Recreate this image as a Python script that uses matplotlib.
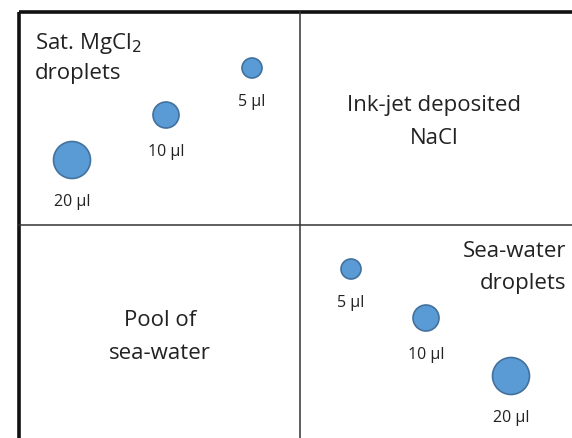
import matplotlib.pyplot as plt
from matplotlib.patches import Circle

plt.rcParams['font.family'] = ['Open Sans', 'DejaVu Sans']

# Volumen der Tropfen (µl) und ihre Radien in Pixeln
volumes = [5, 10, 20]
radii = [10, 13, 18.5]

# Tropfenpositionen (Pixelkoordinaten) je Quadrant
mgcl2_x = [252, 166, 72]
mgcl2_y = [69, 116, 161]
sea_x = [351, 426, 511]
sea_y = [270, 319, 377]

W, H = 572, 439
fig = plt.figure(figsize=(W / 100, H / 100), dpi=100)
ax = fig.add_axes([0, 0, 1, 1])
ax.set_xlim(0, W)
ax.set_ylim(H, 0)
ax.set_aspect('equal')
ax.axis('off')

line_col = '#111111'
# Rahmen und Gitter
ax.plot([19, W], [13, 13], color=line_col, lw=2.6, solid_capstyle='butt')
ax.plot([19, 19], [13, H], color=line_col, lw=2.6, solid_capstyle='butt')
ax.plot([19, W], [226, 226], color='#333333', lw=1.1)
ax.plot([300, 300], [13, H], color='#333333', lw=1.1)

fill = '#5b9bd5'
edge = '#41719c'
text_col = '#222222'


def draw_drops(xs, ys):
    for v, r, x, y in zip(volumes, radii, xs, ys):
        ax.add_patch(Circle((x, y), r, facecolor=fill, edgecolor=edge, lw=1.2))
        ax.text(x, y + r + 23, f'{v} µl', ha='center', va='center',
                fontsize=11.5, color=text_col)


draw_drops(mgcl2_x, mgcl2_y)
draw_drops(sea_x, sea_y)

big = 16
ax.text(35, 43, 'Sat. MgCl$_{2}$', ha='left', va='center', fontsize=big, color=text_col)
ax.text(35, 74, 'droplets', ha='left', va='center', fontsize=big, color=text_col)

ax.text(434, 106, 'Ink-jet deposited', ha='center', va='center', fontsize=big, color=text_col)
ax.text(434, 139, 'NaCl', ha='center', va='center', fontsize=big, color=text_col)

ax.text(160, 321, 'Pool of', ha='center', va='center', fontsize=big, color=text_col)
ax.text(160, 354, 'sea-water', ha='center', va='center', fontsize=big, color=text_col)

ax.text(566, 252, 'Sea-water', ha='right', va='center', fontsize=big, color=text_col)
ax.text(566, 284, 'droplets', ha='right', va='center', fontsize=big, color=text_col)

fig.savefig('out.png', dpi=100)
